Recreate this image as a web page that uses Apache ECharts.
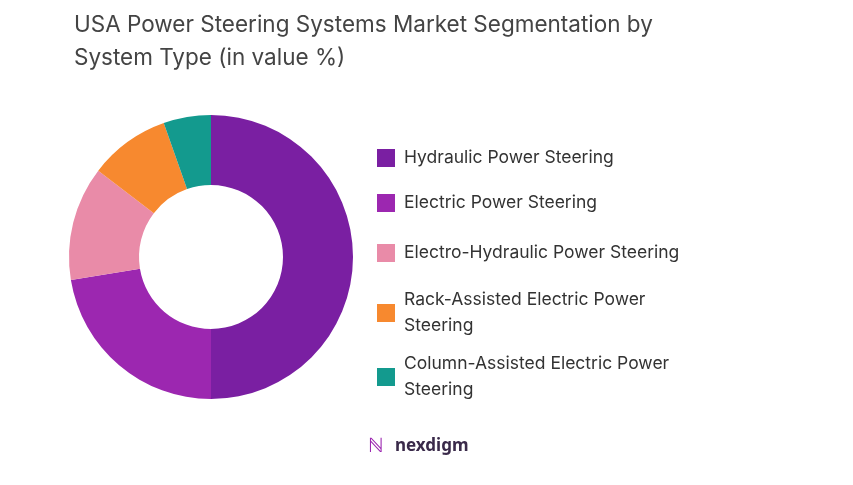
<!DOCTYPE html><html><head><meta charset="utf-8"><script src="https://cdn.jsdelivr.net/npm/echarts@6/dist/echarts.min.js"></script>
<style>html,body{margin:0;background:#fff}#c{width:853px;height:485px}</style></head><body><div id="c"></div><script>
const categories=["Hydraulic Power Steering","Electric Power Steering","Electro-Hydraulic Power Steering","Rack-Assisted Electric Power Steering","Column-Assisted Electric Power Steering"];
const values=[50,22.4,13,9.2,5.4];
const colors=["#7A1FA2","#9C27B0","#E98BA8","#F7892F","#139A8E"];
const tops=[140,185,235,282,346];
const chart=echarts.init(document.getElementById('c'));
const legends=categories.map((n,i)=>({data:[n],orient:'vertical',left:372,top:tops[i],itemWidth:18,itemHeight:18,icon:'rect',
 formatter:s=>s.replace(' Electric Power Steering',' Electric Power\nSteering'),
 textStyle:{fontSize:17.5,color:'#333',lineHeight:26,fontFamily:'Inter',padding:[0,0,0,4]}}));
chart.setOption({
 title:{text:'USA Power Steering Systems Market Segmentation by\nSystem Type (in value %)',left:69,top:4,textStyle:{fontSize:22.5,fontWeight:'normal',color:'#444',lineHeight:33,fontFamily:'Inter'}},
 legend:legends,
 color:colors,
 graphic:[{type:'text',left:395,top:438,style:{text:'nexdigm',fontSize:17,fontWeight:'bold',fill:'#3a2a4a',fontFamily:'Noto Sans'}},
  {type:'text',left:368,top:436,style:{text:'ℕ',fontSize:20,fill:'#9C27B0'}}],
 series:[{type:'pie',radius:[72,142],center:[211,257],startAngle:90,clockwise:true,label:{show:false},labelLine:{show:false},
  data:categories.map((n,i)=>({name:n,value:values[i]}))}]
});
</script></body></html>
